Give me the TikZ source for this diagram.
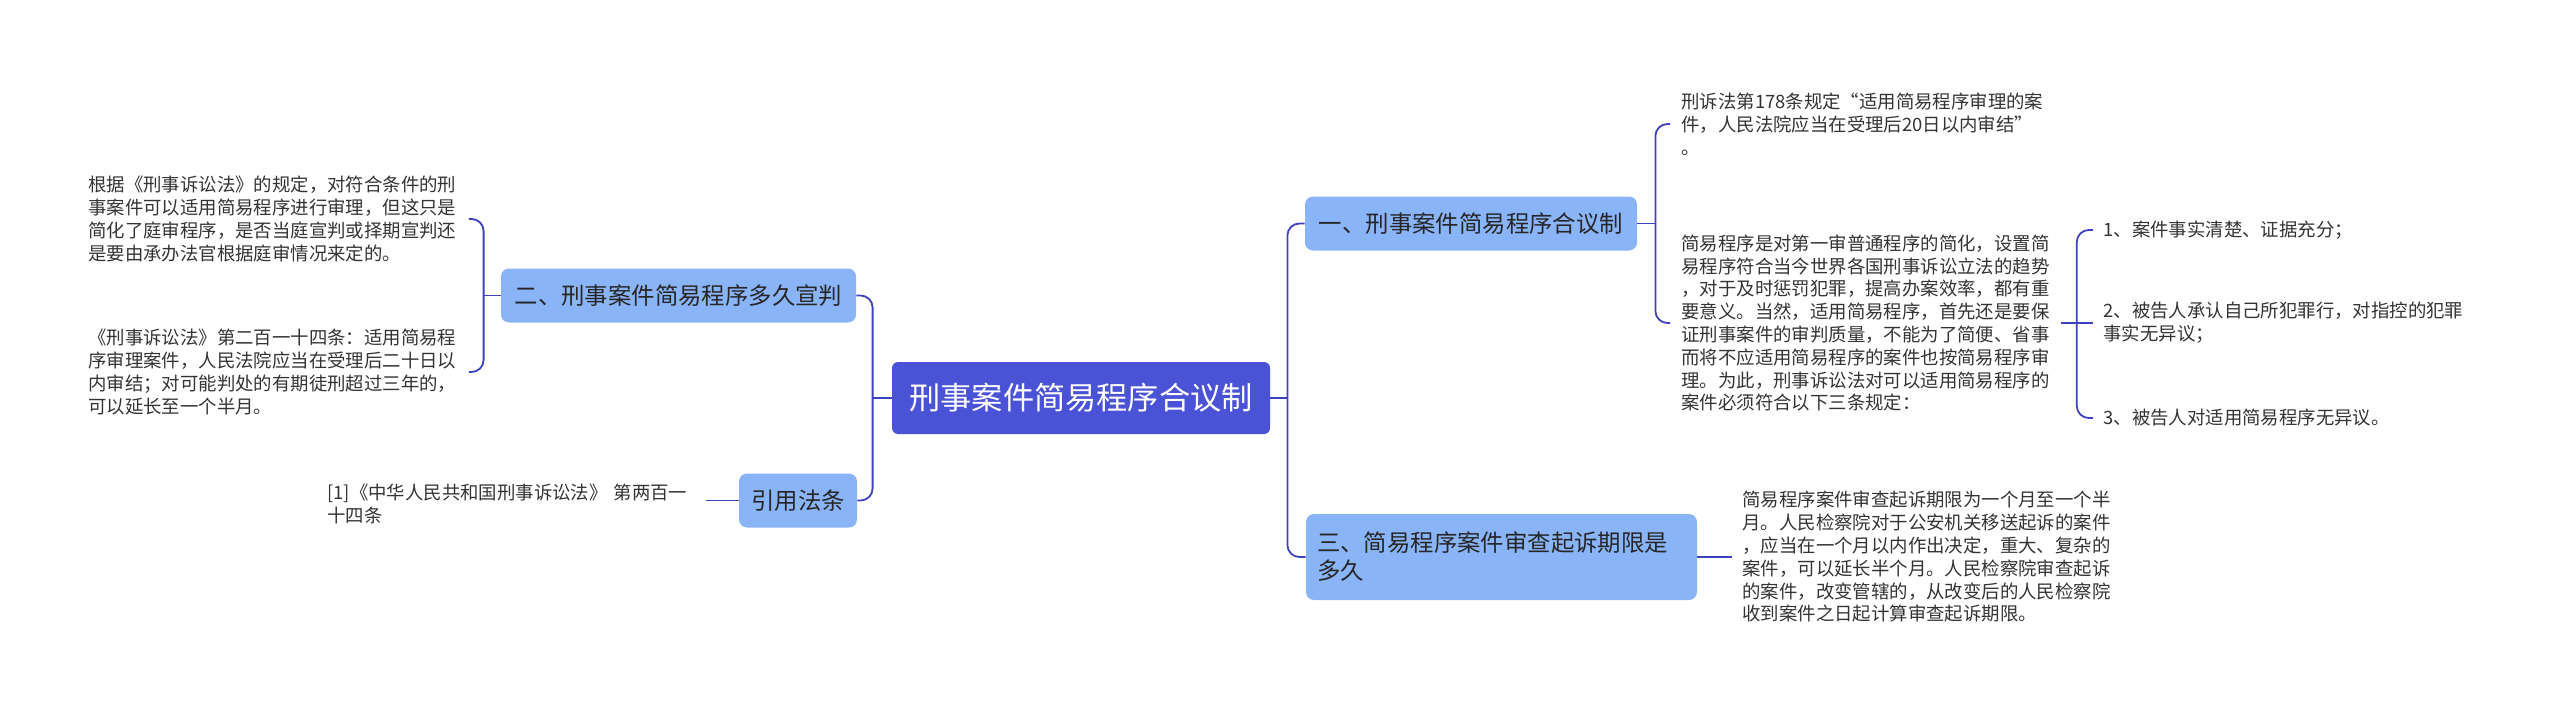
\documentclass[tikz,border=0pt]{standalone}
\usepackage{fontspec}
\setmainfont{Noto Sans CJK SC}
\usepackage{xcolor}
\usetikzlibrary{positioning}
\definecolor{linkblue}{RGB}{62,66,190}
\definecolor{mainblue}{RGB}{74,82,214}
\definecolor{topicblue}{RGB}{138,180,248}
\definecolor{leafgray}{RGB}{51,51,51}
\tikzset{
  link/.style={linkblue, line width=0.9pt, rounded corners=6pt},
  mainnode/.style={fill=mainblue, rounded corners=3pt, text=white,
    font=\fontsize{15.6pt}{18pt}\selectfont, minimum width=189pt, minimum height=36pt},
  topic/.style={fill=topicblue, rounded corners=4pt, text=black!85,
    font=\fontsize{11.7pt}{14pt}\selectfont, minimum height=27pt},
  leaf/.style={text=leafgray, font=\fontsize{9.2pt}{11.4pt}\selectfont,
    align=left, inner sep=0pt, anchor=west},
}

\begin{document}
\begin{tikzpicture}[x=0.5pt,y=-0.5pt]
\useasboundingbox (0,0) rectangle (2560,717);

% centre
\node[mainnode] (main) at (1081,398) {刑事案件简易程序合议制};

% topics
\node[topic, minimum width=166pt] (t1) at (1471,223.5) {一、刑事案件简易程序合议制};
\node[topic, minimum width=177.5pt] (t2) at (678.5,295.5) {二、刑事案件简易程序多久宣判};
\node[topic, minimum height=43pt, text width=184.5pt, align=left, inner xsep=5.5pt] (t3) at (1501.5,557) {三、简易程序案件审查起诉期限是\\多久};
\node[topic, minimum width=59pt] (t4) at (798,500.5) {引用法条};

% topic one: leaves
\node[leaf, inner xsep=5.5pt, text width=184pt] (r1) at (1670,124) {刑诉法第178条规定“适用简易程序审理的案\\件，人民法院应当在受理后20日以内审结”\\。};
\node[leaf, inner xsep=5.5pt, text width=184pt] (r2) at (1670,323) {简易程序是对第一审普通程序的简化，设置简\\易程序符合当今世界各国刑事诉讼立法的趋势\\，对于及时惩罚犯罪，提高办案效率，都有重\\要意义。当然，适用简易程序，首先还是要保\\证刑事案件的审判质量，不能为了简便、省事\\而将不应适用简易程序的案件也按简易程序审\\理。为此，刑事诉讼法对可以适用简易程序的\\案件必须符合以下三条规定：};
\node[leaf, inner xsep=5pt] (c1) at (2093,230) {1、案件事实清楚、证据充分；};
\node[leaf, inner xsep=5pt] (c2) at (2093,323) {2、被告人承认自己所犯罪行，对指控的犯罪\\事实无异议；};
\node[leaf, inner xsep=5pt] (c3) at (2093,418) {3、被告人对适用简易程序无异议。};

% topic three: leaf
\node[leaf, inner xsep=5pt] (r3) at (1732,557) {简易程序案件审查起诉期限为一个月至一个半\\月。人民检察院对于公安机关移送起诉的案件\\，应当在一个月以内作出决定，重大、复杂的\\案件，可以延长半个月。人民检察院审查起诉\\的案件，改变管辖的，从改变后的人民检察院\\收到案件之日起计算审查起诉期限。};

% topic two: leaves
\node[leaf, text width=190pt] (l1) at (88,219) {根据《刑事诉讼法》的规定，对符合条件的刑\\事案件可以适用简易程序进行审理，但这只是\\简化了庭审程序，是否当庭宣判或择期宣判还\\是要由承办法官根据庭审情况来定的。};
\node[leaf, text width=190pt] (l2) at (88,372) {《刑事诉讼法》第二百一十四条：适用简易程\\序审理案件，人民法院应当在受理后二十日以\\内审结；对可能判处的有期徒刑超过三年的，\\可以延长至一个半月。};

% citation
\node[leaf, text width=189pt] (cite) at (327,504) {[1]《中华人民共和国刑事诉讼法》 第两百一\\十四条};

% connectors
\coordinate (rj) at ([xshift=8.5pt]main.east);
\coordinate (lj) at ([xshift=-9.5pt]main.west);
\draw[link] (main.east) -- (rj);
\draw[link] (t1.west) -| (rj) |- (t3.west);
\draw[link] (main.west) -- (lj);
\draw[link] (t2.east) -| (lj) |- (t4.east);

\coordinate (b1) at ([xshift=9pt]t1.east);
\draw[link] (t1.east) -- (b1);
\draw[link] (r1.west) -| (b1) |- (r2.west);

\coordinate (b2) at ([xshift=8pt]r2.east);
\draw[link] (r2.east) -- (c2.west);
\draw[link] (c1.west) -| (b2) |- (c3.west);

\draw[link] (t3.east) -- (r3.west);

\coordinate (b3) at ([xshift=-8.5pt]t2.west);
\draw[link] (t2.west) -- (b3);
\draw[link] (l1.east) -| (b3) |- (l2.east);

\draw[link] (t4.west) -- (t4.west -| cite.east);

\end{tikzpicture}
\end{document}
